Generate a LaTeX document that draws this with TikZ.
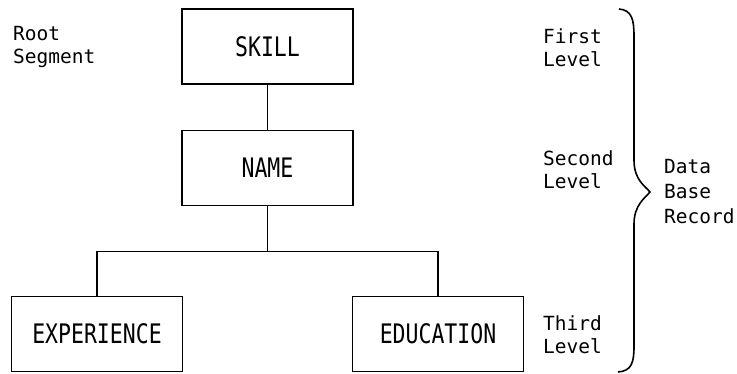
\documentclass[tikz,border=0pt]{standalone}
\usepackage{fontspec}
\usepackage{graphicx}
\setmonofont{DejaVu Sans Mono}
\newcommand{\segfont}{\ttfamily\fontsize{21.5}{26}\selectfont}
\newcommand{\lvlfont}{\ttfamily\fontsize{19.5}{23}\selectfont}
\newcommand{\recfont}{\ttfamily\fontsize{19.5}{25}\selectfont}
\newcommand{\tall}[1]{\scalebox{1}[1.25]{#1}}
\tikzset{
    seg/.style={draw, line width=1.3pt, minimum width=171pt, minimum height=75pt, inner sep=0pt, font=\segfont},
    lvl/.style={anchor=base west, align=left, inner sep=0pt, font=\lvlfont},
    link/.style={line width=1.3pt}
}

\begin{document}
\begin{tikzpicture}[x=1pt, y=-1pt]
    \useasboundingbox (0,0) rectangle (737,373);

    \node [seg] (skill) at (267.5,46.5) {\tall{SKILL}};
    \node [seg] (name) at (267.5,168) {\tall{NAME}};
    \node [seg] (exp) at (97,334) {\tall{EXPERIENCE}};
    \node [seg] (edu) at (438,334) {\tall{EDUCATION}};

    \node [lvl] (root) at (13,63) {Root\\Segment};
    \node [lvl] (lv1) at (543,66) {First\\Level};
    \node [lvl] (lv2) at (543,188) {Second\\Level};
    \node [lvl] (lv3) at (543,353) {Third\\Level};
    \node [lvl, font=\recfont] (rec) at (664,223) {Data\\Base\\Record};

    \draw [link] (skill) -- (name);
    \draw [link] (name.south) --++(0,45) coordinate (split);
    \draw [link] (split) -| (exp.north);
    \draw [link] (split) -| (edu.north);

    \draw [line width=1.6pt]
    (619,9) .. controls (632,10) and (634,20) .. (634,36)
    -- (634,160) .. controls (634,180) and (645,186) .. (650,192)
    .. controls (645,198) and (634,205) .. (634,224)
    -- (634,346) .. controls (634,362) and (632,371) .. (618,372);
\end{tikzpicture}
\end{document}
